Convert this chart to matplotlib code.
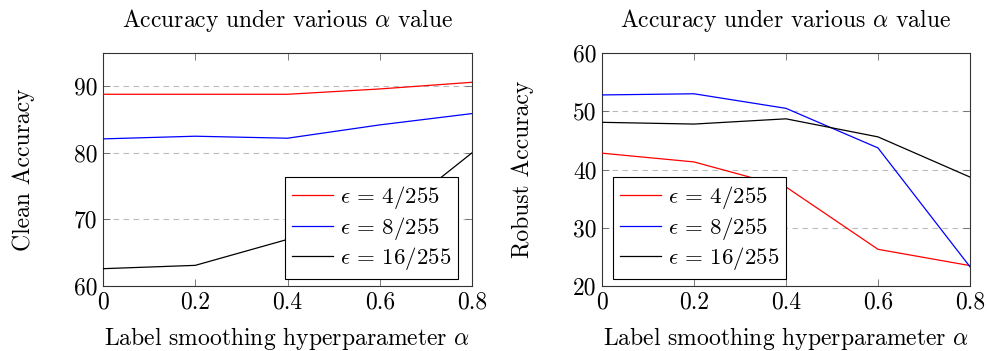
import matplotlib
matplotlib.use("Agg")
import matplotlib.pyplot as plt

alphas = [0, 0.2, 0.4, 0.6, 0.8]
series_labels = [r"$\epsilon\,=\,4/255$", r"$\epsilon\,=\,8/255$", r"$\epsilon\,=\,16/255$"]
colors = ["red", "blue", "black"]

clean_eps4 = [88.8, 88.8, 88.8, 89.6, 90.6]
clean_eps8 = [82.1, 82.5, 82.2, 84.2, 85.9]
clean_eps16 = [62.6, 63.1, 67.0, 69.0, 80.0]

robust_eps4 = [42.8, 41.3, 37.0, 26.3, 23.5]
robust_eps8 = [52.8, 53.0, 50.5, 43.7, 23.3]
robust_eps16 = [48.1, 47.8, 48.7, 45.6, 38.7]

xticks = [0, 0.2, 0.4, 0.6, 0.8]
xticklabels = ["0", "0.2", "0.4", "0.6", "0.8"]
clean_yticks = [60, 70, 80, 90]
robust_yticks = [20, 30, 40, 50, 60]

plt.rcParams["font.family"] = "serif"
plt.rcParams["font.serif"] = ["cmr10", "DejaVu Serif"]
plt.rcParams["mathtext.fontset"] = "cm"
plt.rcParams["axes.formatter.use_mathtext"] = True

FS = 17
fig = plt.figure(figsize=(9.89, 3.51), dpi=100)
W, H = 989, 351
ax1 = fig.add_axes([103 / W, (H - 286) / H, 369 / W, 233 / H])
ax2 = fig.add_axes([602 / W, (H - 286) / H, 368 / W, 233 / H])


def style(ax, data, yticks, ylim, ylabel, legend_anchor, legend_loc):
    for vals, c, lab in zip(data, colors, series_labels):
        ax.plot(alphas, vals, color=c, lw=0.9, label=lab, zorder=3)
    ax.set_xlim(0, 0.8)
    ax.set_ylim(*ylim)
    ax.set_xticks(xticks)
    ax.set_xticklabels(xticklabels, fontsize=FS)
    ax.set_yticks(yticks)
    ax.set_yticklabels([str(t) for t in yticks], fontsize=FS)
    ax.tick_params(direction="in", top=True, right=True, length=5, width=0.6,
                   color="#666666", pad=4)
    ax.yaxis.grid(True, linestyle=(0, (5, 4)), color="#bbbbbb", lw=0.8)
    ax.set_axisbelow(True)
    for s in ax.spines.values():
        s.set_linewidth(0.8)
        s.set_color("#333333")
    ax.set_title(r"Accuracy under various $\alpha$ value", fontsize=FS, pad=19)
    ax.set_xlabel(r"Label smoothing hyperparameter $\alpha$", fontsize=FS, labelpad=8)
    ax.set_ylabel(ylabel, fontsize=FS, labelpad=28)
    leg = ax.legend(loc=legend_loc, bbox_to_anchor=legend_anchor, fontsize=16.5,
                    frameon=True, fancybox=False, edgecolor="black", framealpha=1,
                    handlelength=1.8, handletextpad=0.3, borderpad=0.3,
                    labelspacing=0.15, borderaxespad=0)
    leg.get_frame().set_linewidth(0.8)
    leg.set_zorder(5)


style(ax1, [clean_eps4, clean_eps8, clean_eps16], clean_yticks, (60, 95),
      "Clean Accuracy", (0.963, 0.03), "lower right")
style(ax2, [robust_eps4, robust_eps8, robust_eps16], robust_yticks, (20, 60),
      "Robust Accuracy", (0.03, 0.03), "lower left")

fig.savefig("out.png", dpi=100)
